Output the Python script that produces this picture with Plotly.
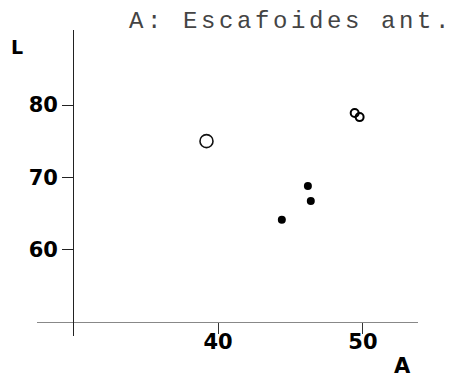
import plotly.graph_objects as go

# Data
title_text = "A: Escafoides ant."
x_label = "A"
y_label = "L"
x_ticks = [40, 50]
y_ticks = [60, 70, 80]

open_x = [39.2]
open_y = [75.0]

filled_x = [44.4, 46.2, 46.4]
filled_y = [64.1, 68.8, 66.7]

pair_x = [49.43, 49.77]
pair_y = [78.89, 78.33]

x_range = [27.5, 53.8]
y_range = [48.0, 90.4]
x_cross = 30
y_cross = 50

W, H = 453, 383
x_dom = [37 / W, 418 / W]
y_dom = [(H - 336) / H, (H - 30) / H]

fig = go.Figure()
fig.add_trace(go.Scatter(x=open_x, y=open_y, mode="markers",
                         marker=dict(symbol="circle-open", size=13, color="#111",
                                     line=dict(width=1.6, color="#111")),
                         showlegend=False))
fig.add_trace(go.Scatter(x=filled_x, y=filled_y, mode="markers",
                         marker=dict(symbol="circle", size=8, color="#000"),
                         showlegend=False))
fig.add_trace(go.Scatter(x=pair_x, y=pair_y, mode="markers",
                         marker=dict(symbol="circle-open", size=8, color="#000",
                                     line=dict(width=2, color="#000")),
                         showlegend=False))

xpos = y_dom[0] + (y_dom[1] - y_dom[0]) * (y_cross - y_range[0]) / (y_range[1] - y_range[0])
ypos = x_dom[0] + (x_dom[1] - x_dom[0]) * (x_cross - x_range[0]) / (x_range[1] - x_range[0])

tickfont = dict(family="DejaVu Sans", size=21, color="#000", weight="bold")

fig.update_layout(
    width=W, height=H,
    margin=dict(l=0, r=0, t=0, b=0),
    paper_bgcolor="white", plot_bgcolor="white",
    xaxis=dict(domain=x_dom, range=x_range, anchor="free", position=xpos,
               showgrid=False, zeroline=False, showline=True, linecolor="#888", linewidth=1,
               ticks="outside", ticklen=11, tickwidth=1, tickcolor="#333",
               ticklabelstandoff=-10,
               tickvals=x_ticks, ticktext=[str(v) for v in x_ticks], tickfont=tickfont),
    yaxis=dict(domain=y_dom, range=y_range, anchor="free", position=ypos,
               showgrid=False, zeroline=False, showline=True, linecolor="#222", linewidth=1.3,
               ticks="outside", ticklen=11, tickwidth=1, tickcolor="#222",
               tickvals=y_ticks, ticktext=[str(v) for v in y_ticks], tickfont=tickfont),
    annotations=[
        dict(text='<span style="letter-spacing:3.6px">' + title_text + '</span>',
             xref="paper", yref="paper", x=127 / W, y=1 - 22 / H,
             xanchor="left", yanchor="middle", showarrow=False,
             font=dict(family="Liberation Mono", size=24, color="#444")),
        dict(text=y_label, xref="paper", yref="paper", x=17 / W, y=1 - 47 / H,
             xanchor="center", yanchor="middle", showarrow=False,
             font=dict(family="DejaVu Sans", size=19, color="#000", weight="bold")),
        dict(text=x_label, xref="paper", yref="paper", x=402 / W, y=1 - 366 / H,
             xanchor="center", yanchor="middle", showarrow=False,
             font=dict(family="DejaVu Sans", size=21, color="#000", weight="bold")),
    ],
)

fig.write_html("out.html")
